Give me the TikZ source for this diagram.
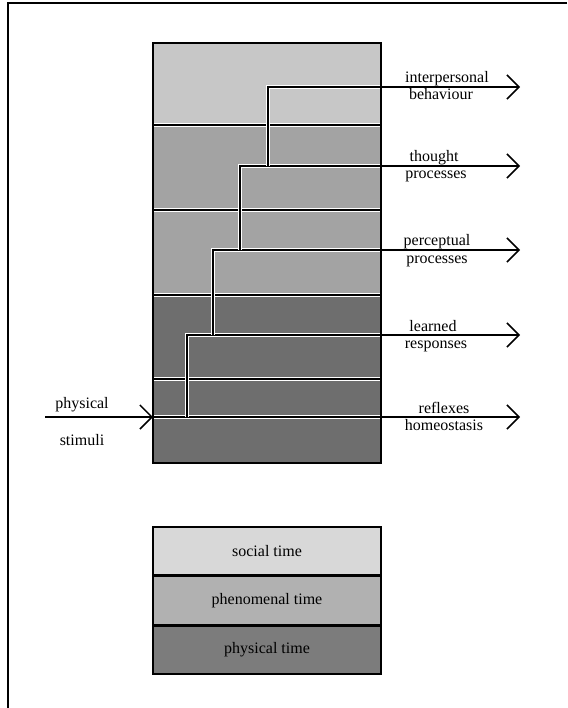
\documentclass[tikz,border=0pt]{standalone}
\usepackage{fontspec}
\setmainfont{Liberation Serif}
\usetikzlibrary{arrows.meta, positioning}

\definecolor{soccol}{gray}{0.78}
\definecolor{phencol}{gray}{0.64}
\definecolor{physcol}{gray}{0.43}

\begin{document}
\begin{tikzpicture}[x=1pt, y=-1pt,
        band/.style  = {minimum width=228pt, inner sep=0pt, outer sep=0pt},
        leg/.style   = {draw, line width=1.5pt, minimum width=228pt, minimum height=48pt, inner sep=0pt, font=\fontsize{16}{15}\selectfont},
        sep/.style   = {line width=1.3pt, preaction={draw=white, line width=4pt}},
        ar/.style    = {-{Straight Barb[length=12pt, width=24pt]}, line width=1.5pt},
        flow/.style  = {ar, preaction={draw=white, line width=4pt, -}},
        lbl/.style   = {font=\fontsize{16}{15}\selectfont, anchor=base, inner sep=0pt}
    ]
        \useasboundingbox (0,0) rectangle (567,708);

        % frame
        \coordinate (fr0) at (8,3);
        \coordinate (fr1) at (567,3);
        \coordinate (fr2) at (8,708);
        \draw[line width=2pt] (fr1) -- (fr0) -- (fr2);

        % layers of the main column
        \node[band, fill=soccol,  minimum height=82pt]  (soc)  at (267,84)  {};
        \node[band, fill=phencol, minimum height=170pt] (phen) at (267,210) {};
        \node[band, fill=physcol, minimum height=168pt] (phys) at (267,379) {};

        \draw[sep] (soc.south west)  -- (soc.south east);
        \draw[sep] (phen.west)       -- (phen.east);
        \draw[sep] (phen.south west) -- (phen.south east);
        \draw[sep] (phys.west)       -- (phys.east);

        % stair of responses
        \coordinate (src) at (45,417);
        \coordinate (k0) at (153,417);
        \coordinate (k1) at (187,417);
        \coordinate (k2) at (213,335);
        \coordinate (k3) at (240,250);
        \coordinate (k4) at (268,166);
        \coordinate (o0) at (520,417);
        \coordinate (o1) at (520,335);
        \coordinate (o2) at (520,250);
        \coordinate (o3) at (520,166);
        \coordinate (o4) at (520,87);

        \draw[flow] (k0) -- (o0);
        \draw[flow] (k1) |- (o1);
        \draw[flow] (k2) |- (o2);
        \draw[flow] (k3) |- (o3);
        \draw[flow] (k4) |- (o4);

        \draw[line width=1.5pt] (soc.north west) rectangle (phys.south east);
        \draw[ar] (src) -- (k0);

        % labels
        \node[lbl] (phA)  at (82,408)  {physical};
        \node[lbl] (phB)  at (82,445)  {stimuli};
        \node[lbl] (ibA)  at (447,83)  {interpersonal};
        \node[lbl] (ibB)  at (441,100) {behaviour};
        \node[lbl] (tpA)  at (434,162) {thought};
        \node[lbl] (tpB)  at (436,179) {processes};
        \node[lbl] (ppA)  at (437,246) {perceptual};
        \node[lbl] (ppB)  at (437,263) {processes};
        \node[lbl] (lrA)  at (433,331) {learned};
        \node[lbl] (lrB)  at (436,348) {responses};
        \node[lbl] (rhA)  at (444,413) {reflexes};
        \node[lbl] (rhB)  at (444,430) {homeostasis};

        % key
        \node[leg, fill=soccol!70]                      (lsoc)  at (267,551) {social time};
        \node[leg, fill=phencol!85, below=0pt of lsoc]  (lphen) {phenomenal time};
        \node[leg, fill=physcol!90, below=0pt of lphen] (lphys) {physical time};
    \end{tikzpicture}
\end{document}
